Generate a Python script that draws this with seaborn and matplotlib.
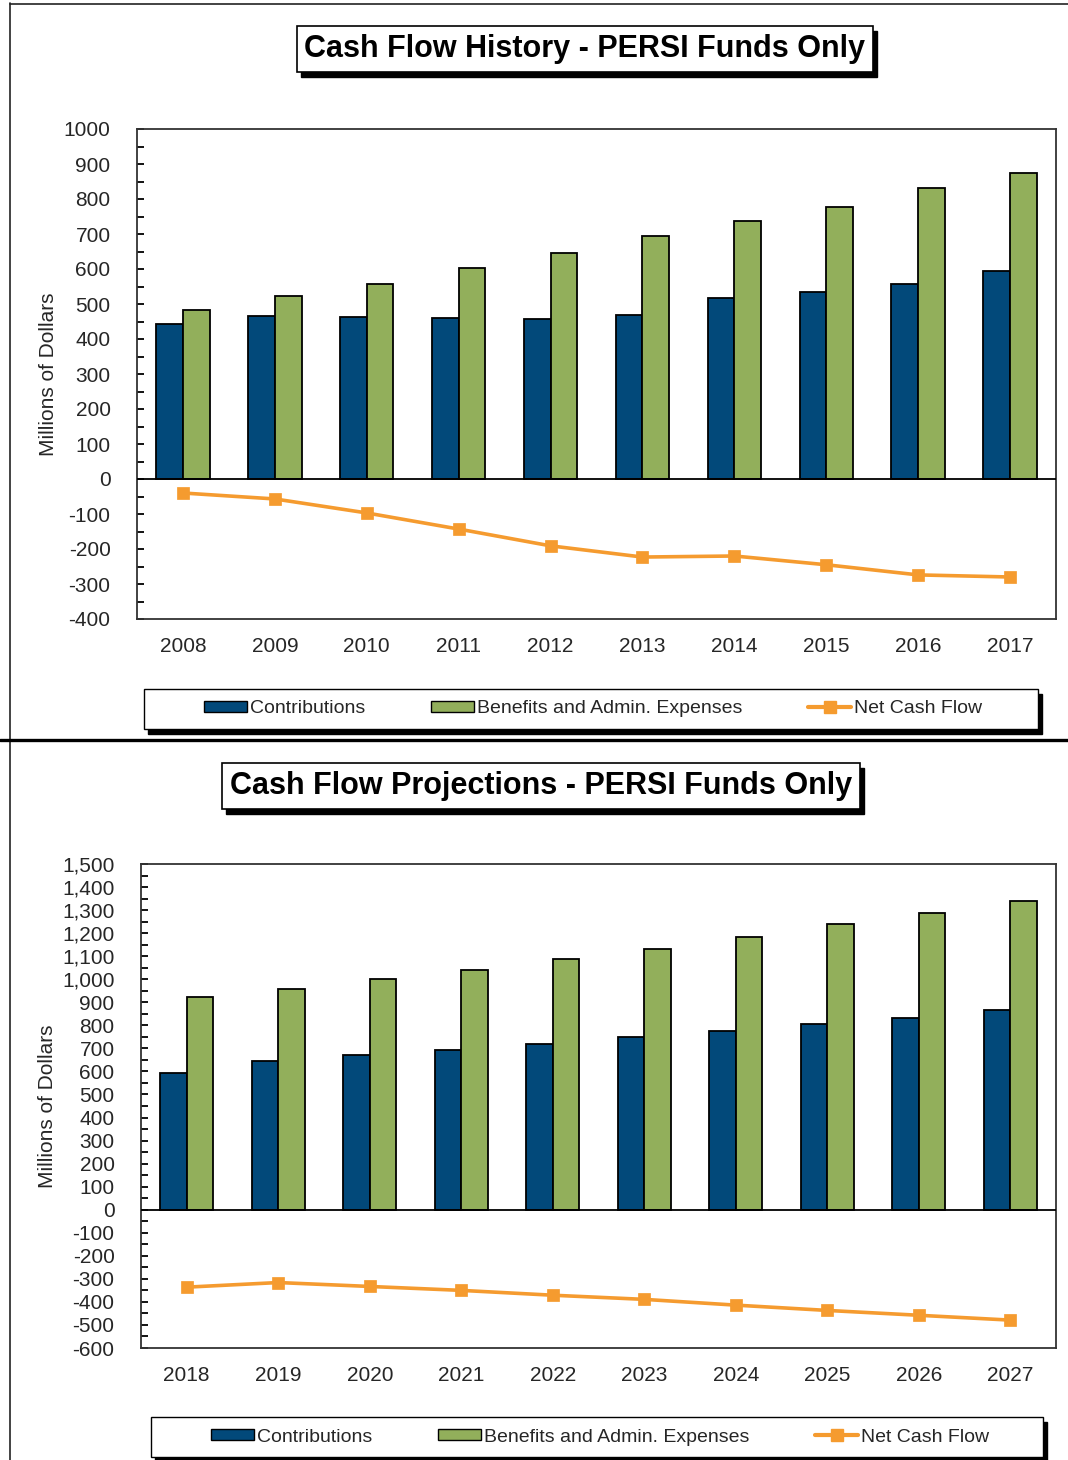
import numpy as np
import pandas as pd
import seaborn as sns
import matplotlib.pyplot as plt
from matplotlib.lines import Line2D
from matplotlib.patches import Patch, Rectangle
from matplotlib.ticker import MultipleLocator, StrMethodFormatter

# history chart
hist_years = ['2008', '2009', '2010', '2011', '2012', '2013', '2014', '2015', '2016', '2017']
hist_contrib = [444, 467, 462, 459, 456, 470, 516, 533, 556, 593]
hist_benefits = [484, 524, 558, 604, 647, 695, 738, 778, 832, 875]
hist_net = [-40, -57, -97, -143, -191, -223, -220, -245, -274, -280]

# projection chart
proj_years = ['2018', '2019', '2020', '2021', '2022', '2023', '2024', '2025', '2026', '2027']
proj_contrib = [594, 646, 672, 694, 720, 750, 776, 806, 832, 867]
proj_benefits = [923, 958, 1001, 1040, 1088, 1131, 1183, 1240, 1287, 1339]
proj_net = [-336, -316, -333, -350, -371, -389, -414, -437, -458, -479]

SERIES = ['Contributions', 'Benefits and Admin. Expenses', 'Net Cash Flow']
BLUE = '#02497A'
GREEN = '#92AF5B'
ORANGE = '#F59B2F'
FRAME = '#333333'
W, H = 1068, 1460

sns.set_theme(style='white')
plt.rcParams['font.family'] = ['Liberation Sans', 'DejaVu Sans']
plt.rcParams['axes.unicode_minus'] = False


def px(x, y):
    """pixel position in reference -> figure fraction"""
    return x / W, 1 - y / H


def add_shadow(fig, x0, y0, w, h, dx=4, dy=5):
    """black drop shadow behind a box given in figure fractions"""
    fig.add_artist(Rectangle((x0 + dx / W, y0 - dy / H), w, h, transform=fig.transFigure,
                             fc='black', ec='black', lw=1, zorder=1))


def boxed_title(fig, text, cx, cy):
    x, y = px(cx, cy)
    t = fig.text(x, y, text, ha='center', va='center', fontsize=22, fontweight='bold',
                 color='black', zorder=3,
                 bbox=dict(boxstyle='square,pad=0.26', fc='white', ec='black', lw=1.2))
    fig.canvas.draw()
    bb = t.get_bbox_patch().get_window_extent().transformed(fig.transFigure.inverted())
    add_shadow(fig, bb.x0, bb.y0, bb.width, bb.height)


def legend_box(fig, x0, y0, x1, y1, cx):
    (fx0, fy1), (fx1, fy0) = px(x0, y0), px(x1, y1)
    w, h = fx1 - fx0, fy1 - fy0
    add_shadow(fig, fx0, fy0, w, h)
    fig.add_artist(Rectangle((fx0, fy0), w, h, transform=fig.transFigure,
                             fc='white', ec='black', lw=1, zorder=2))
    handles = [
        Patch(facecolor=BLUE, edgecolor='black', lw=1),
        Patch(facecolor=GREEN, edgecolor='black', lw=1),
        Line2D([], [], color=ORANGE, lw=3, marker='s', markersize=8),
    ]
    leg = fig.legend(handles, SERIES, loc='center', bbox_to_anchor=(px(cx, 0)[0], (fy0 + fy1) / 2),
                     ncol=3, frameon=False, fontsize=14, handlelength=2.2, handleheight=0.55,
                     handletextpad=0.15, columnspacing=3.4)
    leg.set_zorder(3)


def cash_chart(ax, years, contrib, benefits, net, ylim, comma):
    df = pd.DataFrame({
        'year': years * 2,
        'value': contrib + benefits,
        'series': [SERIES[0]] * len(years) + [SERIES[1]] * len(years),
    })
    sns.barplot(data=df, x='year', y='value', hue='series', palette=[BLUE, GREEN],
                width=0.58, gap=0, edgecolor='black', linewidth=1.3, saturation=1,
                legend=False, ax=ax)
    ax.axhline(0, color='black', lw=1.3, zorder=3)
    sns.pointplot(x=years, y=net, color=ORANGE, markers='s', markersize=7, linewidth=2.6,
                  ax=ax, zorder=4)
    ax.set_ylim(*ylim)
    ax.set_xlim(-0.5, len(years) - 0.5)
    ax.yaxis.set_major_locator(MultipleLocator(100))
    ax.yaxis.set_minor_locator(MultipleLocator(50))
    if comma:
        ax.yaxis.set_major_formatter(StrMethodFormatter('{x:,.0f}'))
    ax.tick_params(axis='y', which='both', direction='in', left=True, length=5, width=1.3,
                   color='black', labelsize=15, pad=19)
    ax.tick_params(axis='x', length=0, labelsize=15, pad=13)
    ax.set_xlabel('')
    ax.set_ylabel('Millions of Dollars', fontsize=15, labelpad=4)
    for s in ax.spines.values():
        s.set_color(FRAME)
        s.set_linewidth(1.3)
        s.set_visible(True)


fig = plt.figure(figsize=(W / 100, H / 100), dpi=100)

ax1 = fig.add_axes([137 / W, 1 - 619 / H, (1056 - 137) / W, (619 - 129) / H])
cash_chart(ax1, hist_years, hist_contrib, hist_benefits, hist_net, (-400, 1000), False)

ax2 = fig.add_axes([141 / W, 1 - 1348 / H, (1056 - 141) / W, (1348 - 864) / H])
cash_chart(ax2, proj_years, proj_contrib, proj_benefits, proj_net, (-600, 1500), True)

boxed_title(fig, 'Cash Flow History - PERSI Funds Only', 585, 49)
boxed_title(fig, 'Cash Flow Projections - PERSI Funds Only', 541, 786)

legend_box(fig, 144, 689, 1038, 729, 593)
legend_box(fig, 151, 1417, 1043, 1457, 600)

# panel frame lines
fig.add_artist(Line2D([10 / W, 10 / W], [0, 1 - 3 / H], transform=fig.transFigure,
                      color='#222222', lw=1.2))
fig.add_artist(Line2D([10 / W, 1], [1 - 4 / H, 1 - 4 / H], transform=fig.transFigure,
                      color='#222222', lw=1.2))
fig.add_artist(Line2D([0, 1], [1 - 740 / H, 1 - 740 / H], transform=fig.transFigure,
                      color='black', lw=2.4))

fig.savefig('out.png', dpi=100)
plt.close(fig)
